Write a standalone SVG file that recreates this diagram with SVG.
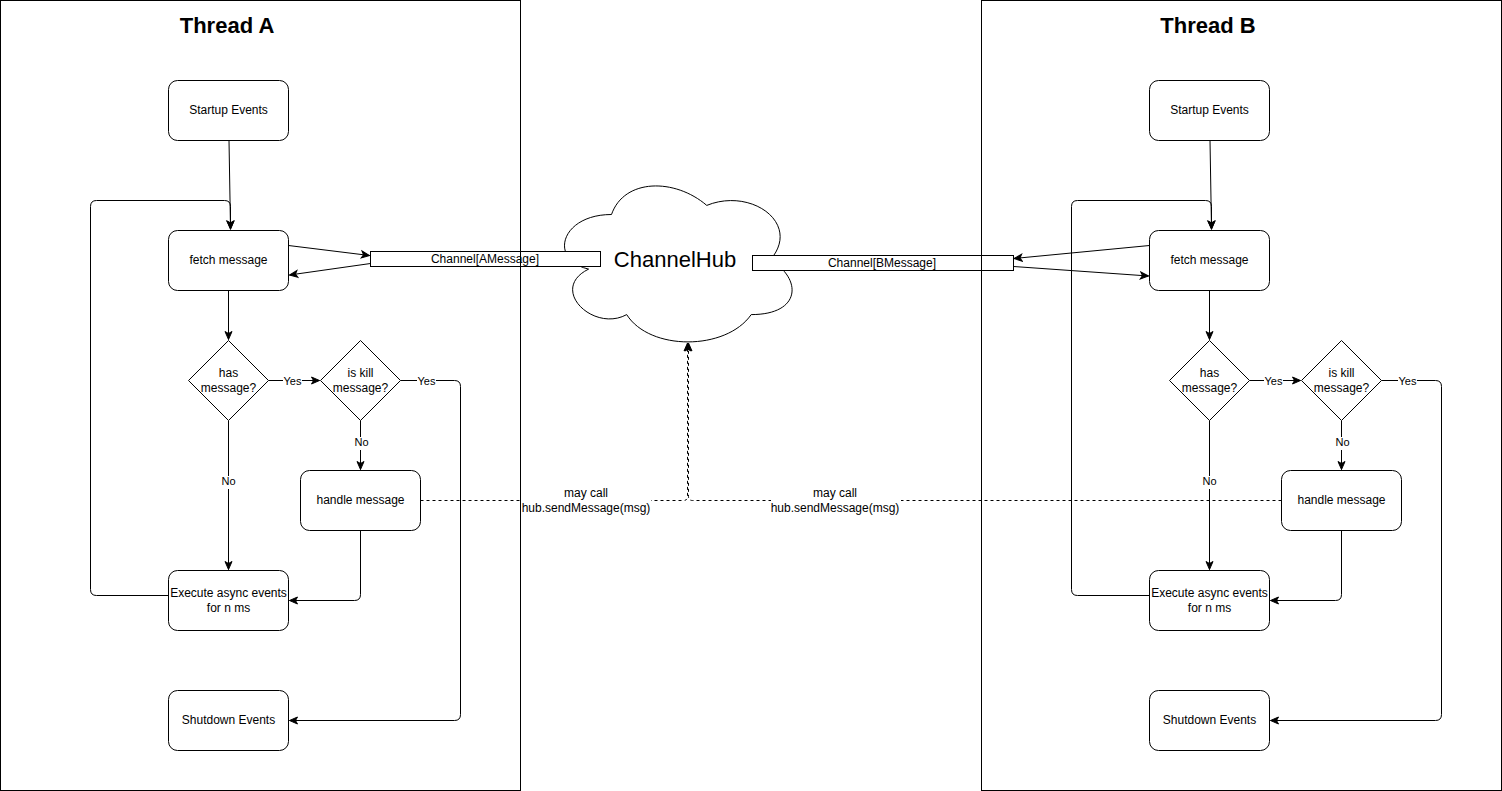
<svg xmlns="http://www.w3.org/2000/svg" width="1502" height="791" viewBox="0 0 1502 791">
<style>
.node{fill:#fff;stroke:#000;stroke-width:1}
.frame{fill:none;stroke:#000;stroke-width:1}
.t{font-family:"Liberation Sans",Arial,sans-serif;font-size:12px;fill:#000;text-anchor:middle}
.lbl{font-family:"Liberation Sans",Arial,sans-serif;font-size:11px;fill:#000;text-anchor:middle}
.title{font-family:"Liberation Sans",Arial,sans-serif;font-size:22px;font-weight:bold;fill:#000;text-anchor:middle}
.hub{font-family:"Liberation Sans",Arial,sans-serif;font-size:22px;fill:#000;text-anchor:middle}
.e{fill:none;stroke:#000;stroke-width:1}
.d{fill:none;stroke:#000;stroke-width:1;stroke-dasharray:3 3}
.bg{fill:#fff}
</style>
<defs>
<marker id="arr" markerUnits="userSpaceOnUse" markerWidth="10" markerHeight="10" viewBox="0 0 10 10" refX="9" refY="5" orient="auto">
<path d="M1,1.5 L9,5 L1,8.5 L3,5 Z" fill="#000" stroke="#000" stroke-width="1"/>
</marker>
</defs>
<rect width="1502" height="791" fill="#fff"/>

<g id="channelhub">
<path class="node" d="M611.5,214.5 C560.7,214.5 548,260 588.6,269.1 C548,289.1 593.7,332.8 626.7,314.6 C649.6,351 725.8,351 751.2,314.6 C802,314.6 802,278.2 770.2,260 C802,223.6 751.2,187.2 706.75,205.4 C675,178.1 624.2,178.1 611.5,214.5 Z"/>
<text class="hub" x="675" y="267">ChannelHub</text>
</g>

<g id="channel-a">
<rect class="node" x="370.5" y="251.5" width="230" height="15"/>
<text class="t" x="485" y="262.5">Channel[AMessage]</text>
</g>
<g id="channel-b">
<rect class="node" x="752.5" y="255.5" width="261" height="15"/>
<text class="t" x="882" y="266.5">Channel[BMessage]</text>
</g>

<g id="connectors">
<!-- Thread A -->
<path class="e" d="M229,140.5 L230.5,229" marker-end="url(#arr)"/>
<path class="e" d="M168.5,595.5 L96.5,595.5 Q90.5,595.5 90.5,589.5 L90.5,206.5 Q90.5,200.5 96.5,200.5 L224.5,200.5 Q230.5,200.5 230.5,206.5 L230.5,229" marker-end="url(#arr)"/>
<path class="e" d="M288.5,245.5 L369.5,255.5" marker-end="url(#arr)"/>
<path class="e" d="M370.5,263.5 L289.5,275" marker-end="url(#arr)"/>
<path class="e" d="M228.5,290.5 L228.5,339.5" marker-end="url(#arr)"/>
<path class="e" d="M268.5,380.5 L319.5,380.5" marker-end="url(#arr)"/>
<path class="e" d="M400.5,380.5 L454.5,380.5 Q460.5,380.5 460.5,386.5 L460.5,714.5 Q460.5,720.5 454.5,720.5 L289.5,720.5" marker-end="url(#arr)"/>
<path class="e" d="M360.5,420.5 L360.5,469.5" marker-end="url(#arr)"/>
<path class="e" d="M228.5,420.5 L228.5,569.5" marker-end="url(#arr)"/>
<path class="e" d="M360.5,530.5 L360.5,594.5 Q360.5,600.5 354.5,600.5 L289.5,600.5" marker-end="url(#arr)"/>
<!-- Thread B -->
<path class="e" d="M1210,140.5 L1211.5,229" marker-end="url(#arr)"/>
<path class="e" d="M1149.5,595.5 L1077.5,595.5 Q1071.5,595.5 1071.5,589.5 L1071.5,206.5 Q1071.5,200.5 1077.5,200.5 L1205.5,200.5 Q1211.5,200.5 1211.5,206.5 L1211.5,229" marker-end="url(#arr)"/>
<path class="e" d="M1149.5,245.5 L1014,258.5" marker-end="url(#arr)"/>
<path class="e" d="M1013.5,266.5 L1148.5,276" marker-end="url(#arr)"/>
<path class="e" d="M1209.5,290.5 L1209.5,339.5" marker-end="url(#arr)"/>
<path class="e" d="M1249.5,380.5 L1300.5,380.5" marker-end="url(#arr)"/>
<path class="e" d="M1381.5,380.5 L1435.5,380.5 Q1441.5,380.5 1441.5,386.5 L1441.5,714.5 Q1441.5,720.5 1435.5,720.5 L1270.5,720.5" marker-end="url(#arr)"/>
<path class="e" d="M1341.5,420.5 L1341.5,469.5" marker-end="url(#arr)"/>
<path class="e" d="M1209.5,420.5 L1209.5,569.5" marker-end="url(#arr)"/>
<path class="e" d="M1341.5,530.5 L1341.5,594.5 Q1341.5,600.5 1335.5,600.5 L1270.5,600.5" marker-end="url(#arr)"/>
<!-- dashed to hub -->
<path class="d" d="M420.5,500.5 L683.5,500.5 Q687.5,500.5 687.5,496.5 L687.5,343" marker-end="url(#arr)"/>
<path class="d" d="M1281.5,500.5 L692.5,500.5 Q688.5,500.5 688.5,496.5 L688.5,343" marker-end="url(#arr)"/>
<!-- labels -->
<rect class="bg" x="283" y="375" width="19" height="13"/>
<text class="lbl" x="292.5" y="385">Yes</text>
<rect class="bg" x="417" y="375" width="19" height="13"/>
<text class="lbl" x="426.5" y="385">Yes</text>
<rect class="bg" x="353" y="437" width="16" height="13"/>
<text class="lbl" x="361.5" y="446">No</text>
<rect class="bg" x="220" y="476" width="16" height="13"/>
<text class="lbl" x="228.5" y="485">No</text>
<rect class="bg" x="1264" y="375" width="19" height="13"/>
<text class="lbl" x="1273.5" y="385">Yes</text>
<rect class="bg" x="1398" y="375" width="19" height="13"/>
<text class="lbl" x="1407.5" y="385">Yes</text>
<rect class="bg" x="1334" y="437" width="16" height="13"/>
<text class="lbl" x="1342.5" y="446">No</text>
<rect class="bg" x="1201" y="476" width="16" height="13"/>
<text class="lbl" x="1209.5" y="485">No</text>
<rect class="bg" x="521" y="486" width="130" height="30"/>
<text class="t" x="586" y="497">may call</text>
<text class="t" x="586" y="512">hub.sendMessage(msg)</text>
<rect class="bg" x="771" y="486" width="130" height="30"/>
<text class="t" x="835" y="497">may call</text>
<text class="t" x="835" y="512">hub.sendMessage(msg)</text>
</g>

<g id="a-startup"><rect class="node" x="168.5" y="80.5" width="120" height="60" rx="9"/><text class="t" x="228.5" y="114">Startup Events</text></g>
<g id="a-fetch"><rect class="node" x="168.5" y="230.5" width="120" height="60" rx="9"/><text class="t" x="228.5" y="264">fetch message</text></g>
<g id="a-has"><path class="node" d="M228.5,340.5 L268.5,380.5 L228.5,420.5 L188.5,380.5 Z"/><text class="t" x="228.5" y="376.5">has</text><text class="t" x="228.5" y="391.5">message?</text></g>
<g id="a-kill"><path class="node" d="M360.5,340.5 L400.5,380.5 L360.5,420.5 L320.5,380.5 Z"/><text class="t" x="360.5" y="376.5">is kill</text><text class="t" x="360.5" y="391.5">message?</text></g>
<g id="a-handle"><rect class="node" x="300.5" y="470.5" width="120" height="60" rx="9"/><text class="t" x="360.5" y="504">handle message</text></g>
<g id="a-exec"><rect class="node" x="168.5" y="570.5" width="120" height="60" rx="9"/><text class="t" x="228.5" y="596.5">Execute async events</text><text class="t" x="228.5" y="611.5">for n ms</text></g>
<g id="a-shutdown"><rect class="node" x="168.5" y="690.5" width="120" height="60" rx="9"/><text class="t" x="228.5" y="724">Shutdown Events</text></g>

<g id="b-startup"><rect class="node" x="1149.5" y="80.5" width="120" height="60" rx="9"/><text class="t" x="1209.5" y="114">Startup Events</text></g>
<g id="b-fetch"><rect class="node" x="1149.5" y="230.5" width="120" height="60" rx="9"/><text class="t" x="1209.5" y="264">fetch message</text></g>
<g id="b-has"><path class="node" d="M1209.5,340.5 L1249.5,380.5 L1209.5,420.5 L1169.5,380.5 Z"/><text class="t" x="1209.5" y="376.5">has</text><text class="t" x="1209.5" y="391.5">message?</text></g>
<g id="b-kill"><path class="node" d="M1341.5,340.5 L1381.5,380.5 L1341.5,420.5 L1301.5,380.5 Z"/><text class="t" x="1341.5" y="376.5">is kill</text><text class="t" x="1341.5" y="391.5">message?</text></g>
<g id="b-handle"><rect class="node" x="1281.5" y="470.5" width="120" height="60" rx="9"/><text class="t" x="1341.5" y="504">handle message</text></g>
<g id="b-exec"><rect class="node" x="1149.5" y="570.5" width="120" height="60" rx="9"/><text class="t" x="1209.5" y="596.5">Execute async events</text><text class="t" x="1209.5" y="611.5">for n ms</text></g>
<g id="b-shutdown"><rect class="node" x="1149.5" y="690.5" width="120" height="60" rx="9"/><text class="t" x="1209.5" y="724">Shutdown Events</text></g>

<g id="thread-a">
<rect class="frame" x="0.5" y="0.5" width="520" height="790"/>
<text class="title" x="227" y="32.5">Thread A</text>
</g>
<g id="thread-b">
<rect class="frame" x="981.5" y="0.5" width="520" height="790"/>
<text class="title" x="1208" y="32.5">Thread B</text>
</g>
</svg>
